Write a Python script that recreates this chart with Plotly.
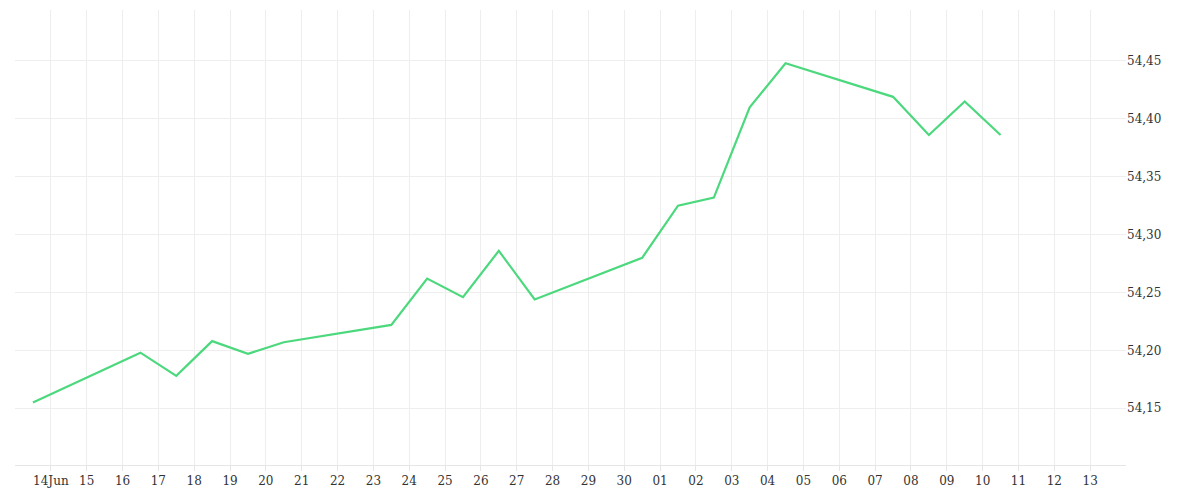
import plotly.graph_objects as go

dates = ["2024-06-13 12:00", "2024-06-16 12:00", "2024-06-17 12:00", "2024-06-18 12:00",
         "2024-06-19 12:00", "2024-06-20 12:00", "2024-06-23 12:00", "2024-06-24 12:00",
         "2024-06-25 12:00", "2024-06-26 12:00", "2024-06-27 12:00", "2024-06-30 12:00",
         "2024-07-01 12:00", "2024-07-02 12:00", "2024-07-03 12:00", "2024-07-04 12:00",
         "2024-07-07 12:00", "2024-07-08 12:00", "2024-07-09 12:00", "2024-07-10 12:00"]
values = [54.155, 54.198, 54.178, 54.208, 54.197, 54.207, 54.222, 54.262, 54.246, 54.286,
          54.244, 54.280, 54.325, 54.332, 54.410, 54.448, 54.419, 54.386, 54.415, 54.386]

tick_days = [f"2024-06-{d:02d}" for d in range(14, 31)] + [f"2024-07-{d:02d}" for d in range(1, 14)]
tick_text = ["14Jun"] + [str(d) for d in range(15, 31)] + [f"{d:02d}" for d in range(1, 14)]
y_ticks = [54.15, 54.20, 54.25, 54.30, 54.35, 54.40, 54.45]

fig = go.Figure()
fig.add_trace(go.Scatter(x=dates, y=values, mode="lines",
                         line=dict(color="#4cd87d", width=2.2)))

fig.update_layout(
    width=1200, height=500,
    margin=dict(l=7, r=82, t=2, b=43),
    plot_bgcolor="white", paper_bgcolor="white",
    showlegend=False,
    separators=",.",
    font=dict(family="DejaVu Serif", size=12, color="#333"),
)
fig.update_xaxes(range=["2024-06-13", "2024-07-14"], tickvals=tick_days, ticktext=tick_text,
                 showgrid=True, gridcolor="#eeeeee", zeroline=False,
                 showline=True, linecolor="#e6e6e6", ticks="outside", ticklen=5,
                 tickcolor="#e6e6e6")
fig.update_yaxes(range=[54.101, 54.494], side="right", tickvals=y_ticks, tickformat=".2f",
                 showgrid=True, gridcolor="#eeeeee", zeroline=False)

fig.write_html("out.html")
